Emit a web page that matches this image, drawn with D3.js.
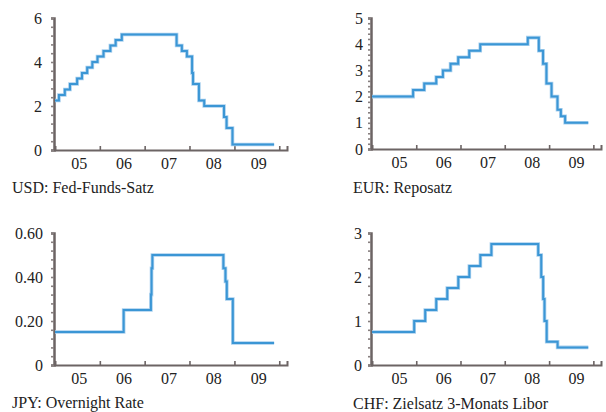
<!DOCTYPE html>
<html>
<head>
<meta charset="utf-8">
<script src="https://cdn.jsdelivr.net/npm/d3@7"></script>
<style>
  body { margin: 0; background: #fff; }
  svg { display: block; }
  .tick text { font-family: "Liberation Serif", "Times New Roman", serif; font-size: 16px; fill: #222; }
  .title { font-family: "Liberation Serif", "Times New Roman", serif; font-size: 16px; fill: #222; }
</style>
</head>
<body>
<div id="chart"></div>
<script>
// policy rates, step dates
const usdDates = ["2005-01-01", "2005-02-02", "2005-03-22", "2005-05-03", "2005-06-30", "2005-08-09", "2005-09-20",
    "2005-11-01", "2005-12-13", "2006-01-31", "2006-03-28", "2006-05-10", "2006-06-29", "2007-09-18", "2007-10-31",
    "2007-12-11", "2008-01-22", "2008-01-30", "2008-03-18", "2008-04-30", "2008-10-08", "2008-10-29", "2008-12-16", "2009-11-20"];
const usdRates = [2.25, 2.5, 2.75, 3.0, 3.25, 3.5, 3.75, 4.0, 4.25, 4.5, 4.75, 5.0, 5.25, 4.75, 4.5,
    4.25, 3.5, 3.0, 2.25, 2.0, 1.5, 1.0, 0.25, 0.25];

const eurDates = ["2005-01-01", "2005-12-06", "2006-03-08", "2006-06-15", "2006-08-09", "2006-10-11", "2006-12-13",
    "2007-03-14", "2007-06-13", "2008-07-09", "2008-10-08", "2008-11-12", "2008-12-10", "2009-01-21", "2009-03-11",
    "2009-04-08", "2009-05-13", "2009-11-20"];
const eurRates = [2.0, 2.25, 2.5, 2.75, 3.0, 3.25, 3.5, 3.75, 4.0, 4.25, 3.75, 3.25, 2.5, 2.0, 1.5, 1.25, 1.0, 1.0];

const jpyDates = ["2005-01-01", "2006-07-14", "2007-02-21", "2007-02-26", "2007-03-05", "2008-10-03", "2008-10-20",
    "2008-10-31", "2008-12-19", "2009-11-20"];
const jpyRates = [0.15, 0.25, 0.32, 0.44, 0.5, 0.44, 0.38, 0.3, 0.1, 0.1];

const chfDates = ["2005-01-01", "2005-12-15", "2006-03-16", "2006-06-15", "2006-09-14", "2006-12-14", "2007-03-15",
    "2007-06-14", "2007-09-13", "2008-10-03", "2008-10-28", "2008-11-13", "2008-11-24", "2008-12-12", "2009-03-12", "2009-11-20"];
const chfRates = [0.75, 1.0, 1.25, 1.5, 1.75, 2.0, 2.25, 2.5, 2.75, 2.5, 2.0, 1.5, 1.0, 0.53, 0.4, 0.4];

const years = ["2006", "2007", "2008", "2009", "2010"];
const yearLabels = ["2005", "2006", "2007", "2008", "2009"];

const usdTicks = [0, 2, 4, 6];
const eurTicks = [0, 1, 2, 3, 4, 5];
const jpyTicks = [0, 0.2, 0.4, 0.6];
const chfTicks = [0, 1, 2, 3];

const parse = d3.timeParse("%Y-%m-%d");
const lineColor = "#3b96d5";
const axisColor = "#6c6464";

const svg = d3.select("#chart")
    .append("svg")
    .attr("width", 606)
    .attr("height", 412);

function drawPanel(cfg) {
    const data = cfg.dates.map((d, i) => ({ date: parse(d), value: cfg.rates[i] }));

    const x = d3.scaleTime()
        .domain([parse("2005-01-01"), parse("2010-03-05")])
        .range([cfg.left, cfg.right]);

    const y = d3.scaleLinear()
        .domain([0, cfg.yMax])
        .range([cfg.bottom, cfg.top]);

    const g = svg.append("g");

    // minor ticks on the y axis
    g.append("g")
        .attr("transform", "translate(" + (cfg.left - 1) + ",0)")
        .call(d3.axisLeft(y).tickValues(d3.range(0, cfg.yMax + 1e-9, cfg.minor)).tickSize(3).tickFormat(""))
        .call(a => a.select(".domain").attr("stroke", axisColor).attr("stroke-width", 2.5))
        .call(a => a.selectAll(".tick line").attr("stroke", "#877f7f").attr("stroke-width", 1.6));

    // y labels
    g.append("g")
        .attr("transform", "translate(" + (cfg.left - 1) + ",0)")
        .call(d3.axisLeft(y).tickValues(cfg.yTicks).tickSize(0).tickPadding(cfg.yPad).tickFormat(cfg.yFormat))
        .call(a => a.select(".domain").remove());

    // x axis with year boundary ticks
    g.append("g")
        .attr("transform", "translate(0," + cfg.bottom + ")")
        .call(d3.axisBottom(x).tickValues(years.map(v => parse(v + "-01-01"))).tickSizeInner(-4).tickSizeOuter(-4).tickFormat(""))
        .call(a => a.select(".domain").attr("stroke", axisColor).attr("stroke-width", 2))
        .call(a => a.selectAll(".tick line").attr("stroke", axisColor).attr("stroke-width", 1.6));

    // year labels centred on each year
    g.append("g")
        .attr("transform", "translate(" + cfg.labelShift + "," + cfg.bottom + ")")
        .call(d3.axisBottom(x).tickValues(yearLabels.map(v => parse(v + "-07-01"))).tickSize(0).tickPadding(8).tickFormat(d3.timeFormat("%y")))
        .call(a => a.select(".domain").remove());

    const line = d3.line()
        .curve(d3.curveStepAfter)
        .x(d => x(d.date))
        .y(d => y(d.value));

    g.append("path")
        .datum(data)
        .attr("fill", "none")
        .attr("stroke", "#a9d0ee")
        .attr("stroke-width", 3.6)
        .attr("d", line);

    g.append("path")
        .datum(data)
        .attr("fill", "none")
        .attr("stroke", lineColor)
        .attr("stroke-width", 2)
        .attr("d", line);

    g.append("text")
        .attr("class", "title")
        .attr("x", cfg.titleX)
        .attr("y", cfg.titleY)
        .text(cfg.title);
}

drawPanel({ dates: usdDates, rates: usdRates, yMax: 6, yTicks: usdTicks, minor: 0.4, yFormat: d3.format("d"), yPad: 12,
    left: 55, right: 287, top: 18, bottom: 150, labelShift: 1.5, title: "USD: Fed-Funds-Satz", titleX: 12, titleY: 193 });
drawPanel({ dates: eurDates, rates: eurRates, yMax: 5, yTicks: eurTicks, minor: 0.2, yFormat: d3.format("d"), yPad: 8,
    left: 372, right: 601, top: 18, bottom: 149, labelShift: 5, title: "EUR: Reposatz", titleX: 353, titleY: 193 });
drawPanel({ dates: jpyDates, rates: jpyRates, yMax: 0.6, yTicks: jpyTicks, minor: 0.04, yFormat: d => d === 0 ? "0" : d3.format(".2f")(d), yPad: 11,
    left: 55, right: 287, top: 233, bottom: 365, labelShift: 1.5, title: "JPY: Overnight Rate", titleX: 12, titleY: 408 });
drawPanel({ dates: chfDates, rates: chfRates, yMax: 3, yTicks: chfTicks, minor: 0.2, yFormat: d3.format("d"), yPad: 9,
    left: 372, right: 601, top: 233, bottom: 365, labelShift: 5, title: "CHF: Zielsatz 3-Monats Libor", titleX: 353, titleY: 409 });
</script>
</body>
</html>
